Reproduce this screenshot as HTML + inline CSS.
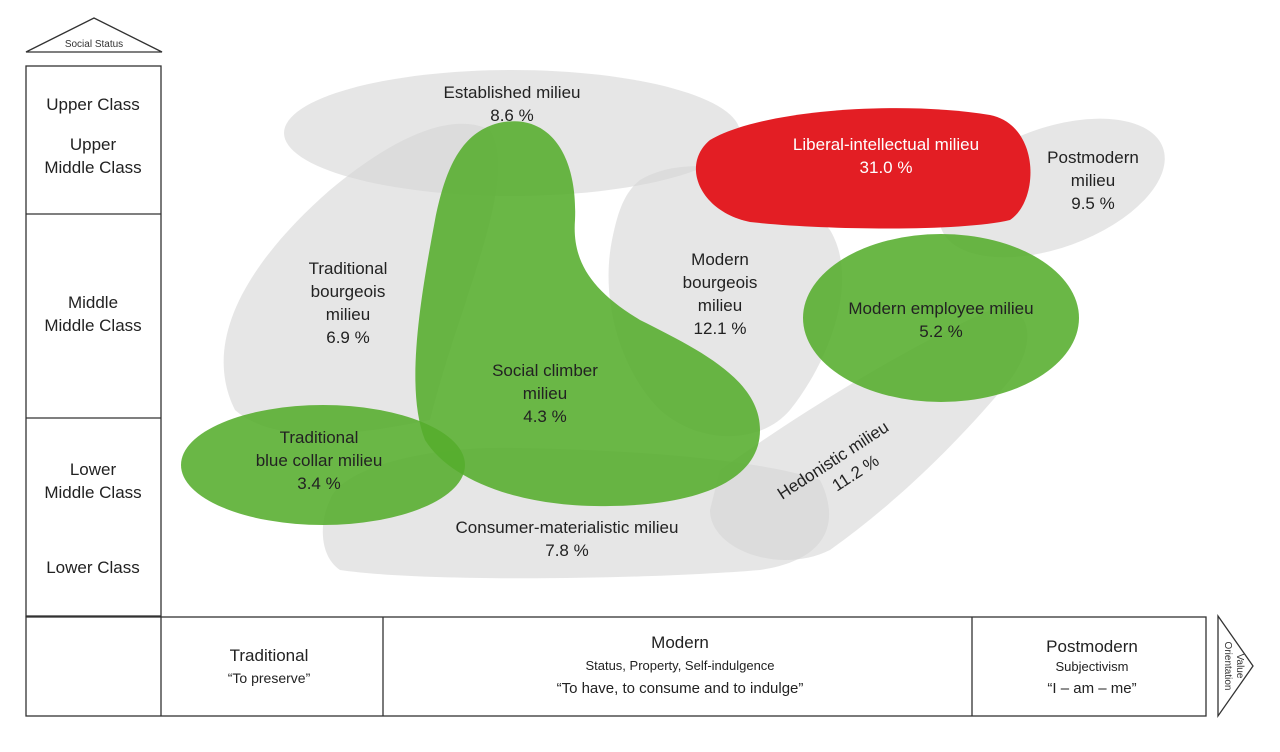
<!DOCTYPE html>
<html><head><meta charset="utf-8"><style>
html,body{margin:0;padding:0;background:#fff;}
svg{display:block;font-family:"Liberation Sans",sans-serif;}
</style></head><body>
<svg width="1280" height="752" viewBox="0 0 1280 752">
<polygon points="26,52 94,18 162,52" fill="#fff" stroke="#333" stroke-width="1.3"/>
<text x="94" y="47" font-size="10" text-anchor="middle" fill="#333">Social Status</text>
<rect x="26" y="66" width="135" height="550" fill="#fff" stroke="#333" stroke-width="1.3"/>
<line x1="26" y1="214" x2="161" y2="214" stroke="#333" stroke-width="1.3"/>
<line x1="26" y1="418" x2="161" y2="418" stroke="#333" stroke-width="1.3"/>
<g font-size="17" fill="#222" text-anchor="middle">
<text x="93" y="110">Upper Class</text>
<text x="93" y="150">Upper</text><text x="93" y="173">Middle Class</text>
<text x="93" y="308">Middle</text><text x="93" y="331">Middle Class</text>
<text x="93" y="475">Lower</text><text x="93" y="498">Middle Class</text>
<text x="93" y="573">Lower Class</text>
</g>
<rect x="26" y="617" width="1180" height="99" fill="#fff" stroke="#333" stroke-width="1.3"/>
<line x1="161" y1="617" x2="161" y2="716" stroke="#333" stroke-width="1.3"/>
<line x1="383" y1="617" x2="383" y2="716" stroke="#333" stroke-width="1.3"/>
<line x1="972" y1="617" x2="972" y2="716" stroke="#333" stroke-width="1.3"/>
<polygon points="1218,616 1253,666 1218,716" fill="#fff" stroke="#333" stroke-width="1.3"/>
<text transform="translate(1233,666) rotate(90)" font-size="10" text-anchor="middle" fill="#333"><tspan x="0" dy="-4">Value</tspan><tspan x="0" dy="12">Orientation</tspan></text>
<g fill="#222" text-anchor="middle">
<text x="269" y="661" font-size="17">Traditional</text>
<text x="269" y="683" font-size="14">“To preserve”</text>
<text x="680" y="648" font-size="17">Modern</text>
<text x="680" y="670" font-size="13">Status, Property, Self-indulgence</text>
<text x="680" y="693" font-size="15">“To have, to consume and to indulge”</text>
<text x="1092" y="652" font-size="17">Postmodern</text>
<text x="1092" y="671" font-size="13">Subjectivism</text>
<text x="1092" y="693" font-size="15">“I – am – me”</text>
</g>
<g fill="#d6d6d6" fill-opacity="0.6">
<ellipse cx="512" cy="133" rx="228" ry="63"/>
<path d="M235,410 C200,340 250,260 330,190 C390,140 450,110 490,130 C520,180 460,300 430,420 C380,430 280,450 235,410 Z"/>
<path d="M330,500 C340,470 420,445 520,448 C640,450 760,460 820,480 C840,520 830,560 760,570 C640,580 420,582 340,570 C318,555 320,520 330,500 Z"/>
<path d="M720,470 C790,420 900,350 990,310 C1030,300 1040,340 1010,380 C960,440 900,500 830,550 C780,575 710,550 710,510 Z"/>
<path d="M640,180 C690,150 780,170 830,230 C860,280 830,360 790,410 C760,445 700,445 660,410 C620,370 600,300 612,240 C618,210 625,192 640,180 Z"/>
<ellipse cx="1052" cy="188" rx="118" ry="60" transform="rotate(-20 1052 188)"/>
</g>
<path d="M710,140 C760,110 900,100 990,115 C1040,125 1040,200 1010,220 C960,232 820,230 750,222 C700,212 680,165 710,140 Z" fill="#e31e24"/>
<g fill="#55ad2c" fill-opacity="0.88">
<ellipse cx="941" cy="318" rx="138" ry="84"/>
<ellipse cx="323" cy="465" rx="142" ry="60"/>
<path d="M495,124 C545,110 578,150 575,220 C572,260 590,290 640,320 C700,350 760,380 760,430 C760,480 700,505 610,506 C520,508 450,480 425,440 C405,390 420,300 435,220 C445,170 460,135 495,124 Z"/>
</g>
<g fill="#222" text-anchor="middle" font-size="17">
<text x="512" y="98">Established milieu</text><text x="512" y="121">8.6 %</text>
<text x="348" y="274">Traditional</text><text x="348" y="297">bourgeois</text><text x="348" y="320">milieu</text><text x="348" y="343">6.9 %</text>
<text x="545" y="376">Social climber</text><text x="545" y="399">milieu</text><text x="545" y="422">4.3 %</text>
<text x="720" y="265">Modern</text><text x="720" y="288">bourgeois</text><text x="720" y="311">milieu</text><text x="720" y="334">12.1 %</text>
<text x="319" y="443">Traditional</text><text x="319" y="466">blue collar milieu</text><text x="319" y="489">3.4 %</text>
<text x="567" y="533">Consumer-materialistic milieu</text><text x="567" y="556">7.8 %</text>
<text x="941" y="314">Modern employee milieu</text><text x="941" y="337">5.2 %</text>
<text x="1093" y="163">Postmodern</text><text x="1093" y="186">milieu</text><text x="1093" y="209">9.5 %</text>
<text x="886" y="150" fill="#fff">Liberal-intellectual milieu</text><text x="886" y="173" fill="#fff">31.0 %</text>
<g transform="translate(836,465) rotate(-33)"><text x="0" y="0">Hedonistic milieu</text><text x="12" y="23">11.2 %</text></g>
</g>
</svg>
</body></html>
